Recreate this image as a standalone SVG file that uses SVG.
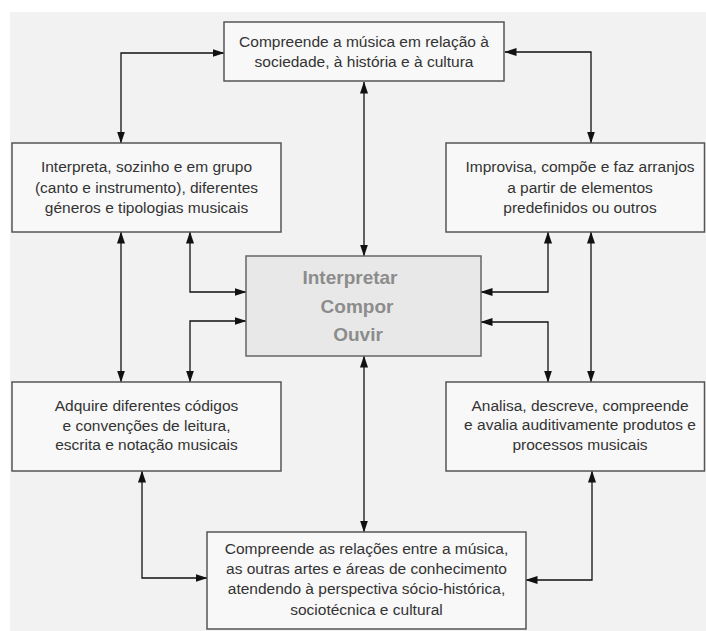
<svg xmlns="http://www.w3.org/2000/svg" width="706" height="631" viewBox="0 0 706 631">
<style>
.box{fill:#f8f8f8;stroke:#555;stroke-width:1.5}
.core{fill:#e8e8e8;stroke:#666;stroke-width:1.5}
.t{font-family:"Liberation Sans",Arial,sans-serif;font-size:15.5px;fill:#333;text-anchor:middle}
.c{font-family:"Liberation Sans",Arial,sans-serif;font-size:19px;font-weight:bold;fill:#8c8c8c;text-anchor:middle}
.ln{fill:none;stroke:#111;stroke-width:1.3;marker-start:url(#ah);marker-end:url(#ah)}
</style>
<defs>
<marker id="ah" viewBox="0 0 12 8" refX="11.5" refY="4" markerWidth="12" markerHeight="8" markerUnits="userSpaceOnUse" orient="auto-start-reverse">
<path d="M0,0 L12,4 L0,8 z" fill="#111"/>
</marker>
</defs>
<rect x="0" y="0" width="706" height="631" fill="#fff"/>
<rect x="10" y="12" width="696" height="619" fill="#f2f2f2"/>
<g id="connectors">
<path class="ln" d="M121,143 V53 H224"/>
<path class="ln" d="M591,143 V52 H505"/>
<path class="ln" d="M364,82 V256"/>
<path class="ln" d="M121,232 V382"/>
<path class="ln" d="M190,232 V292 H246"/>
<path class="ln" d="M246,321 H190 V382"/>
<path class="ln" d="M548,232 V292 H481"/>
<path class="ln" d="M481,322 H548 V382"/>
<path class="ln" d="M591,232 V382"/>
<path class="ln" d="M364,356 V532"/>
<path class="ln" d="M142,471 V578 H207"/>
<path class="ln" d="M592,471 V580 H526"/>
</g>
<g id="top">
<rect class="box" x="224" y="22" width="280" height="59"/>
<text class="t" x="364" y="47">Compreende a música em relação à</text>
<text class="t" x="364" y="67">sociedade, à história e à cultura</text>
</g>
<g id="interpreta">
<rect class="box" x="12" y="143" width="269" height="89"/>
<text class="t" x="146.5" y="172">Interpreta, sozinho e em grupo</text>
<text class="t" x="146.5" y="193">(canto e instrumento), diferentes</text>
<text class="t" x="146.5" y="213">géneros e tipologias musicais</text>
</g>
<g id="improvisa">
<rect class="box" x="446" y="143" width="258.5" height="89"/>
<text class="t" x="580" y="172">Improvisa, compõe e faz arranjos</text>
<text class="t" x="580" y="193">a partir de elementos</text>
<text class="t" x="580" y="213">predefinidos ou outros</text>
</g>
<g id="center">
<rect class="core" x="246" y="256" width="235" height="100"/>
<text class="c" x="350" y="284">Interpretar</text>
<text class="c" x="357" y="313">Compor</text>
<text class="c" x="358" y="341">Ouvir</text>
</g>
<g id="adquire">
<rect class="box" x="12" y="382" width="269" height="89"/>
<text class="t" x="146.5" y="411">Adquire diferentes códigos</text>
<text class="t" x="146.5" y="431">e convenções de leitura,</text>
<text class="t" x="146.5" y="450">escrita e notação musicais</text>
</g>
<g id="analisa">
<rect class="box" x="446" y="382" width="258.5" height="89"/>
<text class="t" x="580" y="411">Analisa, descreve, compreende</text>
<text class="t" x="580" y="430">e avalia auditivamente produtos e</text>
<text class="t" x="580" y="450">processos musicais</text>
</g>
<g id="bottom">
<rect class="box" x="207" y="532" width="319" height="97"/>
<text class="t" x="366.5" y="554">Compreende as relações entre a música,</text>
<text class="t" x="366.5" y="574">as outras artes e áreas de conhecimento</text>
<text class="t" x="366.5" y="594">atendendo à perspectiva sócio-histórica,</text>
<text class="t" x="366.5" y="615">sociotécnica e cultural</text>
</g>
</svg>
